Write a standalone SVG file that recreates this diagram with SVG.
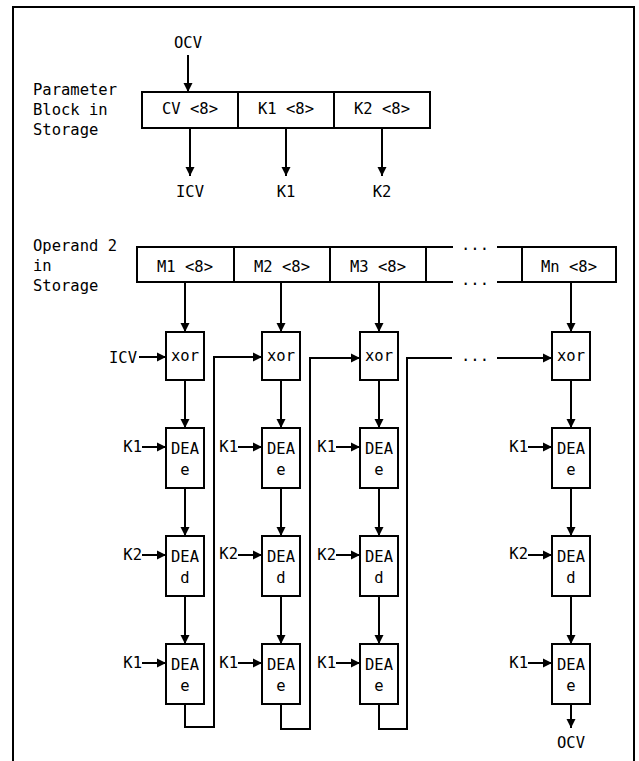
<svg xmlns="http://www.w3.org/2000/svg" width="639" height="761" viewBox="0 0 639 761">
<defs>
<marker id="ah" markerUnits="userSpaceOnUse" markerWidth="11" markerHeight="11" viewBox="0 0 11 11" refX="10" refY="5.5" orient="auto">
<path d="M1,1 L10,5.5 L1,10 Z" fill="#000"/>
</marker>
<style>
text{font-family:"DejaVu Sans Mono","Liberation Mono",monospace;font-size:15.5px;fill:#000}
.c{text-anchor:middle}
.e{text-anchor:end}
.b{fill:#fff;stroke:#000;stroke-width:2}
.l{fill:none;stroke:#000;stroke-width:2}
.a{fill:none;stroke:#000;stroke-width:2;marker-end:url(#ah)}
</style>
</defs>
<rect width="639" height="761" fill="#fff"/>
<rect x="13" y="7" width="621" height="770" class="l"/>

<g id="param-label">
<text x="33" y="95">Parameter</text>
<text x="33" y="115">Block in</text>
<text x="33" y="135">Storage</text>
</g>
<g id="param-block">
<rect x="142" y="92" width="288" height="36" class="b"/>
<line x1="238" y1="92" x2="238" y2="128" class="l"/>
<line x1="334" y1="92" x2="334" y2="128" class="l"/>
<text x="190" y="114" class="c">CV &lt;8&gt;</text>
<text x="286" y="114" class="c">K1 &lt;8&gt;</text>
<text x="382" y="114" class="c">K2 &lt;8&gt;</text>
</g>
<g id="param-io">
<text x="188" y="48" class="c">OCV</text>
<text x="190" y="197" class="c">ICV</text>
<text x="286" y="197" class="c">K1</text>
<text x="382" y="197" class="c">K2</text>
</g>

<g id="operand-label">
<text x="33" y="251">Operand 2</text>
<text x="33" y="271">in</text>
<text x="33" y="291">Storage</text>
</g>
<g id="operand-block">
<rect x="137" y="247" width="289" height="35" class="b"/>
<line x1="234" y1="247" x2="234" y2="282" class="l"/>
<line x1="330" y1="247" x2="330" y2="282" class="l"/>
<path d="M426,247 H453 M497,247 H522 M426,282 H453 M497,282 H522" class="l"/>
<text x="475" y="250" class="c">...</text>
<text x="475" y="285" class="c">...</text>
<rect x="522" y="247" width="94" height="35" class="b"/>
<text x="185" y="272" class="c">M1 &lt;8&gt;</text>
<text x="282" y="272" class="c">M2 &lt;8&gt;</text>
<text x="378" y="272" class="c">M3 &lt;8&gt;</text>
<text x="569" y="272" class="c">Mn &lt;8&gt;</text>
</g>

<g id="connectors">
<line x1="188" y1="55" x2="188" y2="92" class="a"/>
<line x1="190" y1="128" x2="190" y2="176" class="a"/>
<line x1="286" y1="128" x2="286" y2="176" class="a"/>
<line x1="382" y1="128" x2="382" y2="176" class="a"/>
<line x1="185" y1="282" x2="185" y2="332" class="a"/>
<line x1="281" y1="282" x2="281" y2="332" class="a"/>
<line x1="379" y1="282" x2="379" y2="332" class="a"/>
<line x1="571" y1="282" x2="571" y2="332" class="a"/>
<line x1="139" y1="357" x2="166" y2="357" class="a"/>
<line x1="185" y1="380" x2="185" y2="428" class="a"/>
<line x1="185" y1="488" x2="185" y2="536" class="a"/>
<line x1="185" y1="596" x2="185" y2="644" class="a"/>
<line x1="281" y1="380" x2="281" y2="428" class="a"/>
<line x1="281" y1="488" x2="281" y2="536" class="a"/>
<line x1="281" y1="596" x2="281" y2="644" class="a"/>
<line x1="379" y1="380" x2="379" y2="428" class="a"/>
<line x1="379" y1="488" x2="379" y2="536" class="a"/>
<line x1="379" y1="596" x2="379" y2="644" class="a"/>
<line x1="571" y1="380" x2="571" y2="428" class="a"/>
<line x1="571" y1="488" x2="571" y2="536" class="a"/>
<line x1="571" y1="596" x2="571" y2="644" class="a"/>
<line x1="571" y1="704" x2="571" y2="728" class="a"/>
<line x1="142" y1="447" x2="166" y2="447" class="a"/>
<line x1="142" y1="555" x2="166" y2="555" class="a"/>
<line x1="142" y1="663" x2="166" y2="663" class="a"/>
<line x1="238" y1="447" x2="262" y2="447" class="a"/>
<line x1="238" y1="555" x2="262" y2="555" class="a"/>
<line x1="238" y1="663" x2="262" y2="663" class="a"/>
<line x1="336" y1="447" x2="360" y2="447" class="a"/>
<line x1="336" y1="555" x2="360" y2="555" class="a"/>
<line x1="336" y1="663" x2="360" y2="663" class="a"/>
<line x1="528" y1="447" x2="552" y2="447" class="a"/>
<line x1="528" y1="555" x2="552" y2="555" class="a"/>
<line x1="528" y1="663" x2="552" y2="663" class="a"/>
<polyline points="185,704 185,727 214,727 214,357 262,357" class="a"/>
<polyline points="281,704 281,729 310,729 310,358 360,358" class="a"/>
<polyline points="379,704 379,729 407,729 407,358 452,358" class="l"/>
<line x1="497" y1="358" x2="552" y2="358" class="a"/>
<text x="475" y="361" class="c">...</text>
</g>

<g id="col1">
<rect x="166" y="332" width="38" height="48" class="b"/><text x="185" y="361" class="c">xor</text>
<rect x="166" y="428" width="38" height="60" class="b"/><text x="185" y="454" class="c">DEA</text><text x="185" y="475" class="c">e</text>
<rect x="166" y="536" width="38" height="60" class="b"/><text x="185" y="562" class="c">DEA</text><text x="185" y="583" class="c">d</text>
<rect x="166" y="644" width="38" height="60" class="b"/><text x="185" y="670" class="c">DEA</text><text x="185" y="691" class="c">e</text>
<text x="109" y="363">ICV</text>
<text x="142" y="452" class="e">K1</text><text x="142" y="560" class="e">K2</text><text x="142" y="668" class="e">K1</text>
</g>
<g id="col2">
<rect x="262" y="332" width="38" height="48" class="b"/><text x="281" y="361" class="c">xor</text>
<rect x="262" y="428" width="38" height="60" class="b"/><text x="281" y="454" class="c">DEA</text><text x="281" y="475" class="c">e</text>
<rect x="262" y="536" width="38" height="60" class="b"/><text x="281" y="562" class="c">DEA</text><text x="281" y="583" class="c">d</text>
<rect x="262" y="644" width="38" height="60" class="b"/><text x="281" y="670" class="c">DEA</text><text x="281" y="691" class="c">e</text>
<text x="238" y="452" class="e">K1</text><text x="238" y="559" class="e">K2</text><text x="238" y="668" class="e">K1</text>
</g>
<g id="col3">
<rect x="360" y="332" width="38" height="48" class="b"/><text x="379" y="361" class="c">xor</text>
<rect x="360" y="428" width="38" height="60" class="b"/><text x="379" y="454" class="c">DEA</text><text x="379" y="475" class="c">e</text>
<rect x="360" y="536" width="38" height="60" class="b"/><text x="379" y="562" class="c">DEA</text><text x="379" y="583" class="c">d</text>
<rect x="360" y="644" width="38" height="60" class="b"/><text x="379" y="670" class="c">DEA</text><text x="379" y="691" class="c">e</text>
<text x="336" y="452" class="e">K1</text><text x="336" y="560" class="e">K2</text><text x="336" y="668" class="e">K1</text>
</g>
<g id="col4">
<rect x="552" y="332" width="38" height="48" class="b"/><text x="571" y="361" class="c">xor</text>
<rect x="552" y="428" width="38" height="60" class="b"/><text x="571" y="454" class="c">DEA</text><text x="571" y="475" class="c">e</text>
<rect x="552" y="536" width="38" height="60" class="b"/><text x="571" y="562" class="c">DEA</text><text x="571" y="583" class="c">d</text>
<rect x="552" y="644" width="38" height="60" class="b"/><text x="571" y="670" class="c">DEA</text><text x="571" y="691" class="c">e</text>
<text x="528" y="452" class="e">K1</text><text x="528" y="559" class="e">K2</text><text x="528" y="668" class="e">K1</text>
<text x="571" y="748" class="c">OCV</text>
</g>
</svg>
